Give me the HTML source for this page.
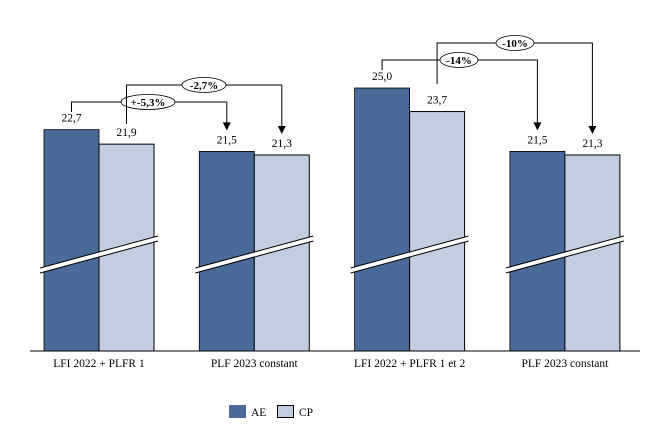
<!DOCTYPE html>
<html><head><meta charset="utf-8"><style>
body{margin:0;background:#fff}
svg{display:block;font-family:"Liberation Serif",serif}
</style></head><body>
<svg id="chart" width="661" height="448"></svg>
<script>
const categories=["LFI 2022 + PLFR 1","PLF 2023 constant","LFI 2022 + PLFR 1 et 2","PLF 2023 constant"];
const aeValues=[22.7,21.5,25.0,21.5];
const cpValues=[21.9,21.3,23.7,21.3];
const aeLabels=["22,7","21,5","25,0","21,5"];
const cpLabels=["21,9","21,3","23,7","21,3"];
const changeLabels=["+-5,3%","-2,7%","-14%","-10%"];
const NS="http://www.w3.org/2000/svg";
const svg=document.getElementById('chart');
function el(t,a,p){const e=document.createElementNS(NS,t);for(const k in a)e.setAttribute(k,a[k]);(p||svg).appendChild(e);return e;}
const base=351,pxPer=18.1;
function y(v){return 155-(v-21.3)*pxPer;}
function gx(i){return 44+i*155.3;}
const bw=55;
for(let i=0;i<categories.length;i++){
  const x=gx(i);
  const a=el('rect',{x:x,y:y(aeValues[i]),width:bw,height:base-y(aeValues[i]),fill:'#4a6a99',stroke:'#000','stroke-width':0.8});
  
  const c=el('rect',{x:x+bw,y:y(cpValues[i]),width:bw,height:base-y(cpValues[i]),fill:'#c3cde0',stroke:'#000','stroke-width':1});
  
  const t1=el('text',{x:x+bw/2,y:y(aeValues[i])-8,'text-anchor':'middle','font-size':11.5});t1.textContent=aeLabels[i];
  
  const t2=el('text',{x:x+bw*1.5,y:y(cpValues[i])-8,'text-anchor':'middle','font-size':11.5});t2.textContent=cpLabels[i];
  
  el('polygon',{points:`${x-4},${268} ${x+114},${236} ${x+114},${241} ${x-4},${273}`,fill:'#fff'});
  el('line',{x1:x-4,y1:268,x2:x+114,y2:236,stroke:'#000','stroke-width':1});
  el('line',{x1:x-4,y1:273,x2:x+114,y2:241,stroke:'#000','stroke-width':1});
  const lb=el('text',{x:x+bw,y:367,'text-anchor':'middle','font-size':11.5});lb.textContent=categories[i];
  
}
const ax=el('line',{x1:30,y1:base,x2:640,y2:base,stroke:'#000','stroke-width':1});

function ann(x1,yb,ly,x2,v,cx,w,label,name){
  const g=el('g',{});
  el('polyline',{points:`${x1},${yb} ${x1},${ly} ${x2},${ly} ${x2},${y(v)-28}`,fill:'none',stroke:'#000','stroke-width':1},g);
  el('polygon',{points:`${x2-4},${y(v)-29} ${x2+4},${y(v)-29} ${x2},${y(v)-21}`,fill:'#000'},g);
  el('ellipse',{cx:cx,cy:ly,rx:w/2,ry:7.5,fill:'#fff',stroke:'#000','stroke-width':0.8},g);
  const t=el('text',{x:cx,y:ly+4,'text-anchor':'middle','font-size':11,'font-weight':'bold'},g);t.textContent=label;
}
ann(gx(0)+bw/2,112,102,gx(1)+bw/2,aeValues[1],148,54,changeLabels[0],'change-ae-group1');
ann(gx(0)+bw*1.5,124,85,gx(1)+bw*1.5,cpValues[1],204,44,changeLabels[1],'change-cp-group1');
ann(gx(2)+bw/2,70,60,gx(3)+bw/2,aeValues[3],459,38,changeLabels[2],'change-ae-group2');
ann(gx(2)+bw*1.5,84,43,gx(3)+bw*1.5,cpValues[3],515,38,changeLabels[3],'change-cp-group2');
const lg=el('g',{});
el('rect',{x:229,y:405,width:17,height:13,fill:'#4a6a99'},lg);
let t=el('text',{x:251,y:416,'font-size':11.5},lg);t.textContent='AE';
el('rect',{x:277.5,y:405.5,width:16,height:12,fill:'#c3cde0',stroke:'#000'},lg);
t=el('text',{x:299,y:416,'font-size':11.5},lg);t.textContent='CP';
</script>
</body></html>
